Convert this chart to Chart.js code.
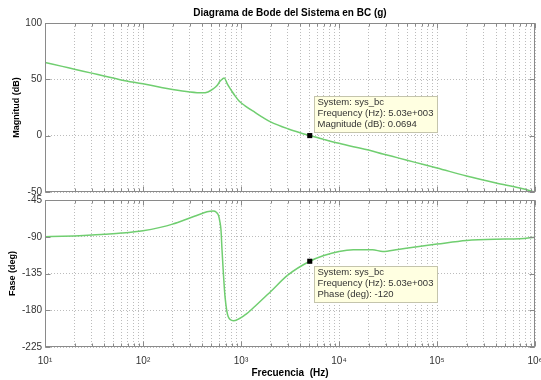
<!DOCTYPE html>
<html>
<head>
<meta charset="utf-8">
<script src="https://cdn.jsdelivr.net/npm/chart.js@4/dist/chart.umd.min.js"></script>
<style>
  html, body { margin: 0; padding: 0; background: #fff; }
  #wrap { position: relative; width: 541px; height: 380px; }
  #wrap canvas { position: absolute; left: 0; top: 0; }
</style>
</head>
<body>
<div id="wrap">
  <canvas id="chart-mag" width="541" height="380"></canvas>
  <canvas id="chart-phase" width="541" height="380"></canvas>
</div>
<script>
// Magnitude curve (Hz, dB)
const magFreq = [10, 15, 20, 30, 40, 60, 100, 150, 200, 300, 400, 460, 520, 570, 610, 650, 676, 720, 770, 820, 870, 950, 1100, 1400, 1700, 2000, 3000, 5030, 7000, 10000, 14000, 20000, 28000, 40000, 60000, 100000, 200000, 400000, 700000, 1000000];
const magDb = [65, 61.5, 59, 55.5, 53, 49.5, 46, 43, 41, 38.8, 38, 38.8, 41.5, 44.5, 48.3, 50.5, 51.2, 46.5, 42.2, 38.5, 35.3, 31, 26.5, 20.5, 15.8, 12.3, 6.2, 0.07, -3.3, -6.8, -9.8, -12.8, -16.2, -19.7, -23.7, -28.7, -35.8, -42, -46.5, -50];

// Phase curve (Hz, deg)
const phaseFreq = [10, 15, 20, 30, 40, 60, 100, 150, 200, 300, 340, 400, 450, 520, 560, 590, 610, 625, 640, 661, 687, 741, 834, 1100, 1400, 2000, 3000, 5030, 7000, 10000, 14000, 22000, 28000, 40000, 60000, 100000, 200000, 400000, 700000, 1000000];
const phaseDeg = [-90, -89.5, -89, -88, -87, -85.5, -82.6, -78.5, -74.5, -67, -64.6, -61.5, -59.5, -58.5, -60, -64, -72, -81.7, -106, -134.8, -163.4, -188, -192.8, -185.8, -174.8, -157.3, -137, -120, -113, -108, -106, -106, -108, -105.5, -102.5, -99, -94.5, -93, -92.5, -90.5];

// Axis ticks
const decades = [10, 100, 1000, 10000, 100000, 1000000];
const magTicks = [-50, 0, 50, 100];
const phaseTicks = [-225, -180, -135, -90, -45];

// Data tips
const tipFreq = 5030;
const tipMag = 0.0694;
const tipPhase = -120;
const magTipLines = ['System: sys_bc', 'Frequency (Hz): 5.03e+003', 'Magnitude (dB): 0.0694'];
const phaseTipLines = ['System: sys_bc', 'Frequency (Hz): 5.03e+003', 'Phase (deg): -120'];

const FONT = '"Liberation Sans", Arial, Helvetica, sans-serif';
const LINE_COLOR = 'rgb(112, 206, 112)';
const GRID_COLOR = '#bcbcbc';
const FRAME_COLOR = '#8a8a8a';
const SUP = { 1: '\u00b9', 2: '\u00b2', 3: '\u00b3', 4: '\u2074', 5: '\u2075', 6: '\u2076' };

Chart.defaults.font.family = FONT;

// all grid positions 1..9 x 10^n
const gridFreqs = [];
decades.forEach(d => {
  for (let k = 1; k <= 9; k++) {
    if (d * k <= decades[decades.length - 1]) gridFreqs.push(d * k);
  }
});

const toPoints = (xs, ys) => xs.map((x, i) => ({ x, y: ys[i] }));

/**
 * Frame, inner tick marks and data tip box
 */
const bodePlugin = {
  id: 'bode',
  afterDraw(chart, args, opts) {
    const { ctx, chartArea: a, scales } = chart;
    const l = Math.round(a.left) + 0.5;
    const r = Math.round(a.right) - 0.5;
    const t = Math.round(a.top) + 0.5;
    const b = Math.round(a.bottom) - 0.5;

    ctx.save();
    ctx.strokeStyle = FRAME_COLOR;
    ctx.lineWidth = 1;
    ctx.strokeRect(l, t, r - l, b - t);

    ctx.beginPath();
    scales.x.ticks.forEach(tk => {
      const px = Math.round(scales.x.getPixelForValue(tk.value)) + 0.5;
      const len = decades.includes(tk.value) ? 5 : 3;
      ctx.moveTo(px, b); ctx.lineTo(px, b - len);
      ctx.moveTo(px, t); ctx.lineTo(px, t + len);
    });
    scales.y.ticks.forEach(tk => {
      const py = Math.round(scales.y.getPixelForValue(tk.value)) + 0.5;
      ctx.moveTo(l, py); ctx.lineTo(l + 5, py);
      ctx.moveTo(r, py); ctx.lineTo(r - 5, py);
    });
    ctx.stroke();

    // data tip
    const pt = chart.getDatasetMeta(1).data[0];
    if (pt) {
      const lines = opts.tipLines;
      ctx.font = '9.5px ' + FONT;
      const w = Math.round(Math.max(...lines.map(s => ctx.measureText(s).width)) + 7);
      const h = Math.round(lines.length * 10.8 + 4);
      const bx = Math.round(pt.x + 4) + 0.5;
      const by = Math.round(opts.tipAbove ? pt.y - 40 : pt.y + 5) + 0.5;
      ctx.fillStyle = '#ffffe1';
      ctx.fillRect(bx, by, w, h);
      ctx.strokeStyle = '#c4c4ac';
      ctx.strokeRect(bx, by, w, h);
      ctx.fillStyle = '#333';
      ctx.textBaseline = 'middle';
      ctx.textAlign = 'left';
      lines.forEach((s, i) => ctx.fillText(s, bx + 3, by + 6 + i * 10.8));
    }
    ctx.restore();
  }
};

function xScale(showLabels) {
  return {
    type: 'logarithmic',
    min: decades[0],
    max: decades[decades.length - 1],
    afterBuildTicks: s => { s.ticks = gridFreqs.map(v => ({ value: v, major: decades.includes(v) })); },
    ticks: {
      display: showLabels,
      autoSkip: false,
      maxRotation: 0,
      padding: 8,
      color: '#333',
      font: { size: 10 },
      callback: v => decades.includes(v) ? '10' + SUP[Math.round(Math.log10(v))] : ''
    },
    grid: { color: GRID_COLOR, lineWidth: 1, drawTicks: false },
    border: { display: false, dash: [1, 2] },
    title: {
      display: showLabels,
      text: 'Frecuencia  (Hz)',
      color: '#000',
      font: { size: 10, weight: 'bold' },
      padding: { top: 0, bottom: 1 }
    },
    afterFit: s => {
      s.paddingLeft = 0;
      s.paddingRight = 0;
      s.height = showLabels ? 33 : 0;
    }
  };
}

function yScale(min, max, tickValues, label, titlePad) {
  return {
    min,
    max,
    afterBuildTicks: s => { s.ticks = tickValues.map(v => ({ value: v })); },
    ticks: { padding: 3, color: '#333', font: { size: 10 } },
    grid: { color: GRID_COLOR, lineWidth: 1, drawTicks: false },
    border: { display: false, dash: [1, 2] },
    title: {
      display: true,
      text: label,
      color: '#000',
      font: { size: 9, weight: 'bold' },
      padding: { top: titlePad, bottom: 0 }
    },
    afterFit: s => { s.width = 45; }
  };
}

function curveDataset(points) {
  return {
    data: points,
    order: 1,
    borderColor: LINE_COLOR,
    borderWidth: 1.5,
    pointRadius: 0,
    fill: false,
    cubicInterpolationMode: 'monotone'
  };
}

function markerDataset(x, y) {
  // lower order is drawn last, so the marker sits on top of the curve
  return {
    data: [{ x, y }],
    order: 0,
    showLine: false,
    pointStyle: 'rect',
    pointRadius: 3.6,
    backgroundColor: '#000',
    borderColor: '#000',
    borderWidth: 0
  };
}

const magChart = new Chart(document.getElementById('chart-mag'), {
  type: 'line',
  data: {
    datasets: [
      curveDataset(toPoints(magFreq, magDb)),
      markerDataset(tipFreq, tipMag)
    ]
  },
  options: {
    responsive: false,
    animation: false,
    devicePixelRatio: 1,
    layout: { padding: { top: 0, left: 0, right: 6, bottom: 188 } },
    scales: {
      x: xScale(false),
      y: yScale(magTicks[0], magTicks[magTicks.length - 1], magTicks, 'Magnitud (dB)', 11)
    },
    plugins: {
      legend: { display: false },
      tooltip: { enabled: false },
      title: {
        display: true,
        text: 'Diagrama de Bode del Sistema en BC (g)',
        color: '#000',
        fullSize: false,
        font: { size: 10, weight: 'bold' },
        padding: { top: 7, bottom: 4 }
      },
      bode: { tipLines: magTipLines, tipAbove: true }
    }
  },
  plugins: [bodePlugin]
});

const phaseChart = new Chart(document.getElementById('chart-phase'), {
  type: 'line',
  data: {
    datasets: [
      curveDataset(toPoints(phaseFreq, phaseDeg)),
      markerDataset(tipFreq, tipPhase)
    ]
  },
  options: {
    responsive: false,
    animation: false,
    devicePixelRatio: 1,
    layout: { padding: { top: 200, left: 0, right: 6, bottom: 0 } },
    scales: {
      x: xScale(true),
      y: yScale(phaseTicks[0], phaseTicks[phaseTicks.length - 1], phaseTicks, 'Fase (deg)', 7)
    },
    plugins: {
      legend: { display: false },
      tooltip: { enabled: false },
      bode: { tipLines: phaseTipLines, tipAbove: false }
    }
  },
  plugins: [bodePlugin]
});
</script>
</body>
</html>
